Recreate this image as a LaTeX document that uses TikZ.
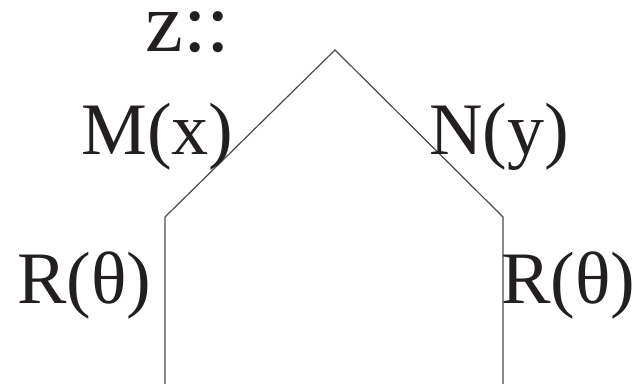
\documentclass[tikz,border=0pt]{standalone}
\usepackage{fontspec}
\setmainfont{Liberation Serif}
\usepackage{tikz}
\definecolor{edgegray}{HTML}{4A4A4A}
\definecolor{labelink}{HTML}{231F20}

\begin{document}
\begin{tikzpicture}[x=0.5pt,y=-0.5pt,
  lbl/.style={anchor=base west,inner sep=0pt,text=labelink,font=\fontsize{37}{40}\selectfont},
  edge/.style={draw=edgegray,line width=0.6pt}]
\useasboundingbox (0,0) rectangle (634,384);
% outline of the shape
\coordinate (apex) at (335,50);
\coordinate (lshoulder) at (165,217);
\coordinate (rshoulder) at (503,217);
\coordinate (lfoot) at (165,384);
\coordinate (rfoot) at (503,384);
\draw[edge] (lfoot) -- (lshoulder) -- (apex) -- (rshoulder) -- (rfoot);
% labels
\node[lbl,font=\fontsize{42.5}{45}\selectfont,text height=0.45em] (zlabel) at (145,52) {z::};
\node[lbl] (mlabel) at (81,155) {M(x)};
\node[lbl] (nlabel) at (429,155) {N(y)};
\node[lbl] (rleft) at (17,304) {R(θ)};
\node[lbl] (rright) at (501,304) {R(θ)};
\end{tikzpicture}
\end{document}
